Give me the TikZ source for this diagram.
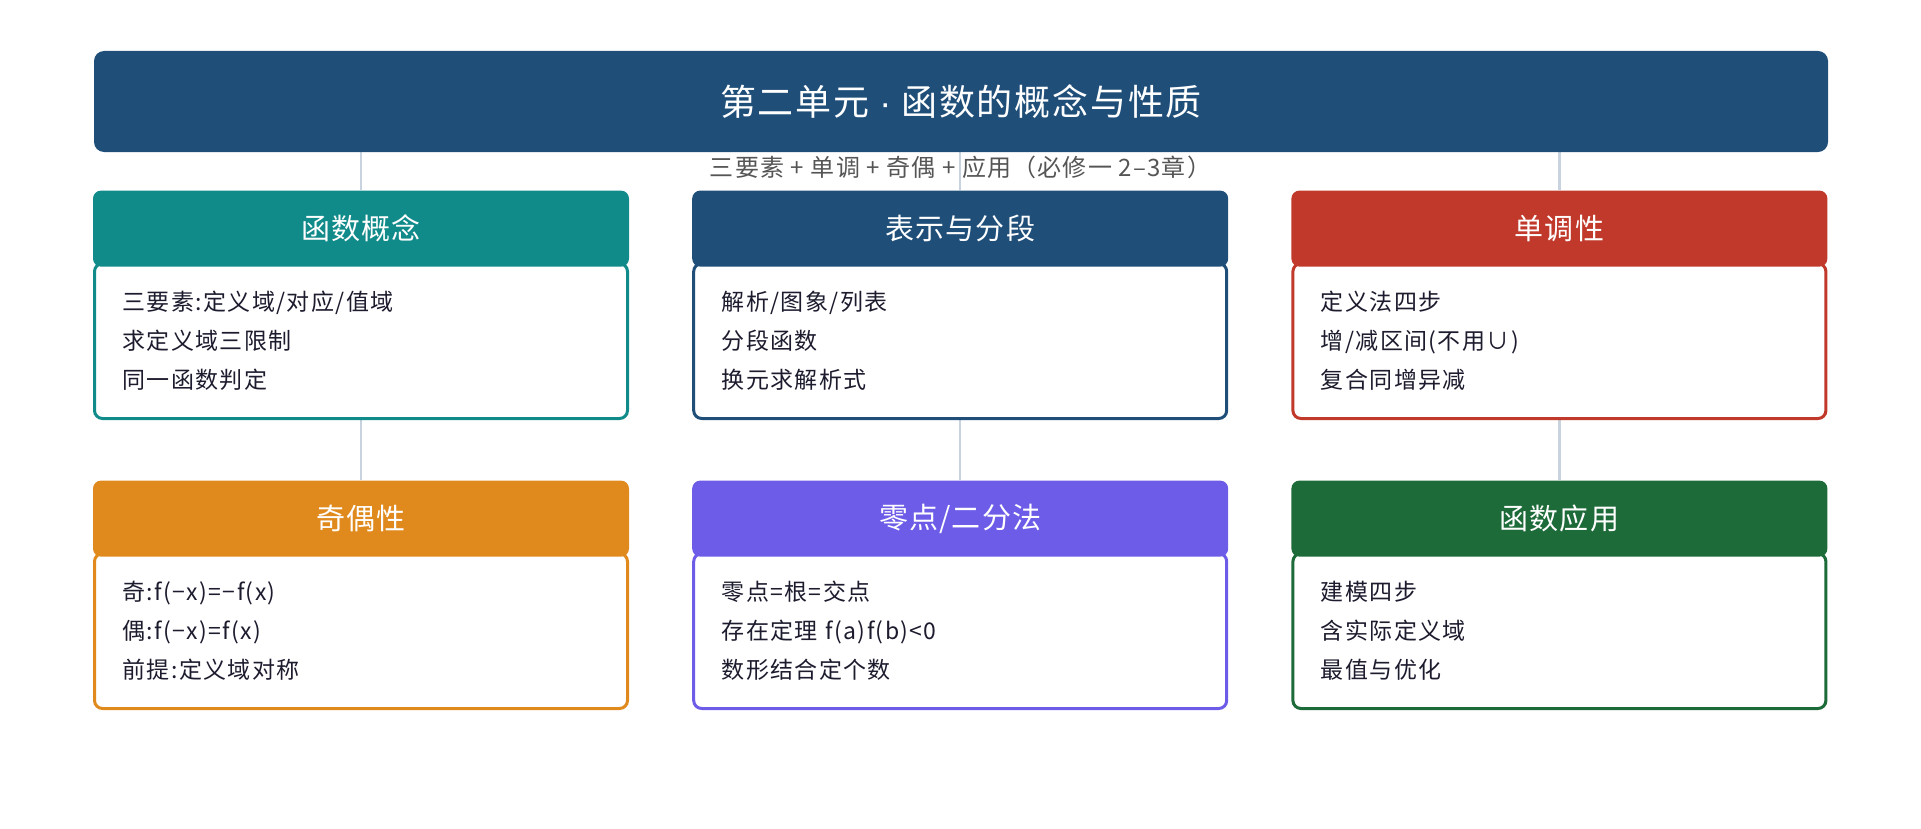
\documentclass[tikz,border=0pt]{standalone}
\usepackage{fontspec}
\setmainfont{Noto Sans CJK SC}
\newfontfamily\titlefont[LetterSpace=5]{Noto Sans CJK SC}
\newfontfamily\headfont[LetterSpace=4]{Noto Sans CJK SC}
\newfontfamily\bodyfont[LetterSpace=6]{Noto Sans CJK SC}
\newfontfamily\subfont[LetterSpace=5]{Noto Sans CJK SC}
\newfontfamily\dotfont{Liberation Sans}
\usepackage{tikz}
\usetikzlibrary{positioning,backgrounds}
\definecolor{navy}{HTML}{1F4E79}
\definecolor{cteal}{HTML}{118A8A}
\definecolor{cred}{HTML}{C0392B}
\definecolor{corange}{HTML}{E08A1E}
\definecolor{cpurple}{HTML}{6C5CE7}
\definecolor{cgreen}{HTML}{1E6B3A}
\definecolor{ink}{HTML}{1C1C2E}
\definecolor{subgray}{HTML}{555555}
\definecolor{linkgray}{HTML}{C9D3E0}
\tikzset{
  titlebox/.style={
    fill=navy,
    rounded corners=5pt,
    minimum width=867pt,
    minimum height=50.5pt,
    text=white,
    font=\titlefont\fontsize{18pt}{20pt}\selectfont
  },
  subline/.style={
    text=subgray,
    font=\subfont\fontsize{12pt}{14pt}\selectfont
  },
  cardhead/.style={
    fill=#1,
    rounded corners=4pt,
    minimum width=268pt,
    minimum height=38pt,
    inner sep=0pt,
    text=white,
    font=\headfont\fontsize{14.5pt}{16pt}\selectfont
  },
  cardbody/.style={
    draw=#1,
    line width=1.5pt,
    fill=white,
    rounded corners=4pt,
    text width=238.5pt,
    inner xsep=14pt,
    minimum height=77.5pt,
    align=left,
    text=ink,
    font=\bodyfont\fontsize{11.5pt}{19.5pt}\selectfont
  },
  link/.style={draw=linkgray, line width=1.25pt}
}
\begin{document}
\begin{tikzpicture}[x=0.5pt,y=-0.5pt]
  \useasboundingbox (0,0) rectangle (1921,829);
  \node[titlebox] (title) at (961,101.5) {第二单元 {\dotfont·} 函数的概念与性质};
  \node[subline] (subtitle) at (960.5,167.5) {三要素 + 单调 + 奇偶 + 应用（必修一 2–3章）};
  % first row
  \node[cardbody=cteal,anchor=north] (concept) at (361,262) {
    三要素:定义域/对应/值域\\
    求定义域三限制\\
    同一函数判定
  };
  \node[cardhead=cteal,above=-2.5pt of concept] (concepthead) {函数概念};
  \node[cardbody=navy,right=31.6pt of concept] (repr) {
    解析/图象/列表\\
    分段函数\\
    换元求解析式
  };
  \node[cardhead=navy,above=-2.5pt of repr] (reprhead) {表示与分段};
  \node[cardbody=cred,right=31.6pt of repr] (mono) {
    定义法四步\\
    增/减区间(不用∪)\\
    复合同增异减
  };
  \node[cardhead=cred,above=-2.5pt of mono] (monohead) {单调性};
  % second row
  \node[cardbody=corange,below=66pt of concept] (parity) {
    奇:f(−x)=−f(x)\\
    偶:f(−x)=f(x)\\
    前提:定义域对称
  };
  \node[cardhead=corange,above=-2.5pt of parity] (parityhead) {奇偶性};
  \node[cardbody=cpurple,below=66pt of repr] (zero) {
    零点=根=交点\\
    存在定理 f(a)f(b)<0\\
    数形结合定个数
  };
  \node[cardhead=cpurple,above=-2.5pt of zero] (zerohead) {零点/二分法};
  \node[cardbody=cgreen,below=66pt of mono] (app) {
    建模四步\\
    含实际定义域\\
    最值与优化
  };
  \node[cardhead=cgreen,above=-2.5pt of app] (apphead) {函数应用};
  \begin{scope}[on background layer]
    \draw[link] (title.south -| concepthead) -- (concepthead);
    \draw[link] (title.south -| reprhead) -- (reprhead);
    \draw[link] (title.south -| monohead) -- (monohead);
    \draw[link] (concept) -- (parityhead);
    \draw[link] (repr) -- (zerohead);
    \draw[link] (mono) -- (apphead);
  \end{scope}
\end{tikzpicture}
\end{document}
